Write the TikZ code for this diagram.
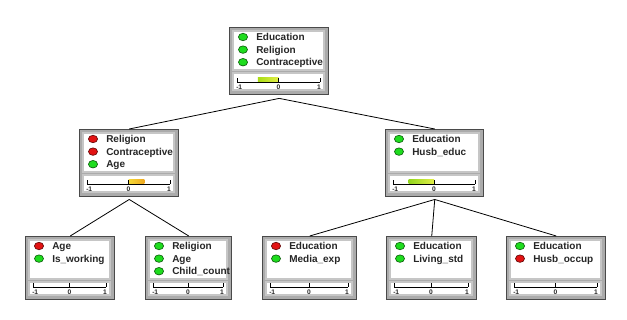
\documentclass[tikz,border=0pt]{standalone}
\usepackage{fontspec}
\setmainfont{Liberation Sans}
\usetikzlibrary{shapes.geometric}
\definecolor{FrameDark}{HTML}{4A4A4A}
\definecolor{FrameGray}{HTML}{ABABAB}
\definecolor{PanelLine}{HTML}{C6C6C6}
\definecolor{DotGreen}{HTML}{1EDC1E}
\definecolor{DotRed}{HTML}{E21212}
\definecolor{BarGreen}{HTML}{A8DC14}
\definecolor{BarYellow}{HTML}{E2EE48}
\definecolor{BarLime}{HTML}{92D61E}
\definecolor{BarGold}{HTML}{F4DA38}
\definecolor{BarOrange}{HTML}{EFA820}

\newcommand{\attrbox}[7]{%
  \begin{scope}[shift={(#2,#3)}]
    \def\boxw{#4}\def\boxh{#5}
    \node[boxframe,anchor=north west,minimum width={#4*0.75pt},minimum height={#5*0.75pt}] (#1) at (0,0) {};
    \draw[panelbox] (4,4) rectangle (#4-4,43);
    \draw[panelbox] (4,46) rectangle (#4-4,#5-4);
    \foreach \dotcol/\rowtxt [count=\k] in {#6}{
      \node[statedot,fill=\dotcol,draw=\dotcol!45!black] (#1-dot\k) at (14,12.6*\k-2.6) {};
      \node[rowlabel] (#1-row\k) at (27,12.6*\k+1) {\rowtxt};
    }
    #7
    \draw[rulerline] (8,#5-12) -- (#4-8,#5-12);
    \foreach \v in {-1,0,1}
      \draw[rulerline] ({#4/2+(\v)*(#4/2-8)},#5-12) -- ++(0,-4);
    \node[ticklabel,anchor=west] (#1-lo) at (7,#5-7) {-1};
    \node[ticklabel] (#1-mid) at (#4/2,#5-7) {0};
    \node[ticklabel,anchor=east] (#1-hi) at (#4-7,#5-7) {1};
  \end{scope}}

\newcommand{\scalebar}[4]{%
  \shade[left color=#3,right color=#4]
    ({\boxw/2+(#1)*(\boxw/2-8)},\boxh-16) rectangle ({\boxw/2+(#2)*(\boxw/2-8)},\boxh-12.5);}

\begin{document}
\begin{tikzpicture}[x=0.75pt,y=-0.75pt,
    boxframe/.style={draw=FrameDark,fill=FrameGray,line width=1.1pt,inner sep=0pt},
    panelbox/.style={draw=PanelLine,fill=white,line width=1pt},
    statedot/.style={ellipse,minimum width=6.8pt,minimum height=5.6pt,inner sep=0pt,line width=0.5pt},
    rowlabel/.style={anchor=base west,inner sep=0pt,text=black!85,font=\fontsize{7.5}{9}\selectfont\bfseries},
    ticklabel/.style={inner sep=0pt,text=black!85,font=\fontsize{5}{5}\selectfont\bfseries},
    rulerline/.style={draw=black,line width=0.6pt},
    link/.style={draw=black,line width=0.6pt}]
    \fill[white] (0,0) rectangle (627,320);
    \path[use as bounding box] (0,0) rectangle (627,320);

    \attrbox{root}{229}{27}{99}{67}{DotGreen/Education,DotGreen/Religion,DotGreen/Contraceptive}
      {\scalebar{-0.5}{0}{BarGreen}{BarYellow}}
    \attrbox{rel}{79}{129}{99}{67}{DotRed/Religion,DotRed/Contraceptive,DotGreen/Age}
      {\scalebar{0}{0.38}{BarGold}{BarOrange}}
    \attrbox{edu}{385}{129}{98}{67}{DotGreen/Education,DotGreen/Husb\_educ}
      {\scalebar{-0.62}{0}{BarLime}{BarYellow}}
    \attrbox{age}{25}{236}{89}{63}{DotRed/Age,DotGreen/Is\_working}{}
    \attrbox{child}{145}{236}{86}{63}{DotGreen/Religion,DotGreen/Age,DotGreen/Child\_count}{}
    \attrbox{media}{262}{236}{94}{63}{DotRed/Education,DotGreen/Media\_exp}{}
    \attrbox{living}{386}{236}{90}{63}{DotGreen/Education,DotGreen/Living\_std}{}
    \attrbox{occup}{506}{236}{99}{63}{DotGreen/Education,DotRed/Husb\_occup}{}

    \coordinate (rootj) at ([yshift=-2.2pt]root.south);
    \coordinate (relj) at ([yshift=-1.5pt]rel.south);
    \coordinate (eduj) at ([yshift=-1.5pt]edu.south);
    \draw[link] (rootj) -- (rel.north);
    \draw[link] (rootj) -- (edu.north);
    \draw[link] (relj) -- (age.north);
    \draw[link] (relj) -- (child.north);
    \draw[link] (eduj) -- (media.north);
    \draw[link] (eduj) -- (living.north);
    \draw[link] (eduj) -- (occup.north);
  \end{tikzpicture}
\end{document}
